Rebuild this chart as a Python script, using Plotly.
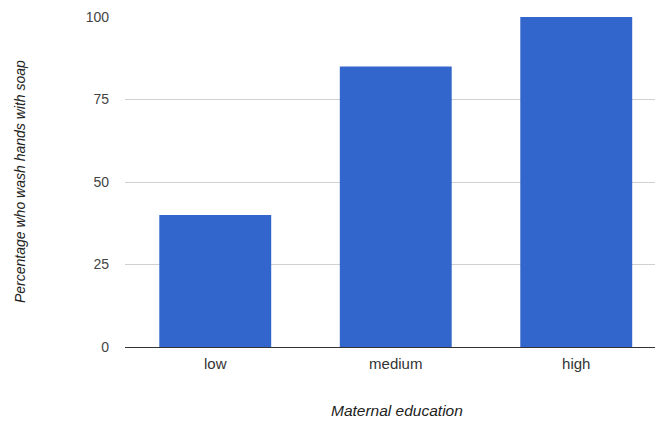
import plotly.graph_objects as go

categories = ["low", "medium", "high"]
values = [40, 85, 100]
y_ticks = [0, 25, 50, 75, 100]

# page body has an 8px default margin, so the figure is shifted by 8px
OFF = 8
W, H = 663 - OFF, 421 - OFF
L, T = 125 - OFF, 17 - OFF
plot_w = 541.5
plot_h = 330

fig = go.Figure(go.Bar(
    x=categories, y=values,
    marker=dict(color="#3366CC", line=dict(width=0)),
    width=0.62,
))

span = 3 * (W - L) / plot_w

fig.update_layout(
    width=W, height=H,
    margin=dict(l=L, r=0, t=T, b=H - T - plot_h, pad=0),
    paper_bgcolor="white", plot_bgcolor="white",
    showlegend=False,
    font=dict(family="Liberation Sans, Arial, sans-serif", size=14, color="#444444"),
    xaxis=dict(
        range=[-0.5, -0.5 + span],
        showgrid=False, zeroline=False, showline=False,
        ticks="", ticklabelstandoff=6, tickfont=dict(size=15, color="#333333"),
        fixedrange=True,
    ),
    yaxis=dict(
        range=[0, 100], tickvals=y_ticks,
        showgrid=True, gridcolor="#d0d0d0", gridwidth=1,
        zeroline=True, zerolinecolor="#333333", zerolinewidth=1,
        showline=False, ticks="", ticklabelstandoff=15,
        tickfont=dict(size=14, color="#444444"),
    ),
    annotations=[
        dict(text="Percentage who wash hands with soap", textangle=-90,
             xref="paper", yref="paper", x=(20 - 125) / (W - L), y=0.5,
             xanchor="center", yanchor="middle", showarrow=False,
             font=dict(size=14, color="#222222", style="italic")),
        dict(text="Maternal education",
             xref="paper", yref="paper", x=(397 - 125) / (W - L), y=(347 - 410) / plot_h,
             xanchor="center", yanchor="middle", showarrow=False,
             font=dict(size=15.5, color="#222222", style="italic")),
    ],
)

fig.write_html("out.html")
